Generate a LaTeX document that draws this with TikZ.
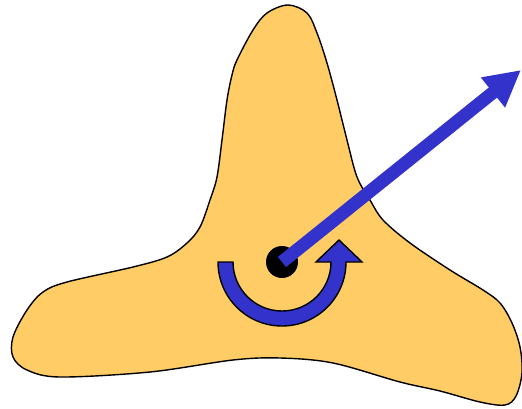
\documentclass[tikz,border=0pt]{standalone}
\usetikzlibrary{arrows.meta}
\definecolor{blobfill}{HTML}{FFCC66}
\definecolor{arrblue}{HTML}{3333CC}
\tikzset{
  blob/.style={draw=black, line width=1.4pt, fill=blobfill},
  rotarrow/.style={draw=black, line width=1.4pt, fill=arrblue, line join=miter},
  dotnode/.style={circle, fill=black, inner sep=0pt, minimum size=32pt},
  movearrow/.style={draw=arrblue, line width=13pt, -{Triangle[length=36pt,width=36pt]}}
}
\begin{document}
\begin{tikzpicture}[x=1pt,y=1pt]
\useasboundingbox (0,0) rectangle (522,408);
% blob (pixel y converted: Y = 408 - y)
\draw[blob] plot[smooth cycle, tension=0.55] coordinates {
 (288,403) (307,395) (317,375) (327,345) (337,308) (347,268) (357,231) (370,208) (383,188)
 (410,165) (450,138) (483,118) (500,105) (512,85) (520,61) (522,35) (516,12) (505,3)
 (480,6) (440,17) (400,26) (333,45) (280,50) (233,48) (150,36) (60,31) (27,38) (13,51)
 (13,71) (27,98) (43,116) (67,126) (133,141) (167,151) (187,165) (200,181) (210,208)
 (217,231) (222,268) (227,308) (232,333) (237,348) (253,378) (267,395)};
% rotation arrow
\filldraw[rotarrow] (218,146) arc[start angle=180, end angle=360, radius=64]
  -- (362,146) -- (339,168) -- (316,146) -- (331,146)
  arc[start angle=360, end angle=180, radius=49] -- cycle;
% centre dot
\node[dotnode] (dot) at (282,146) {};
\coordinate (tip) at (521,338);
\draw[movearrow] (dot.center) -- (tip);
\end{tikzpicture}
\end{document}
